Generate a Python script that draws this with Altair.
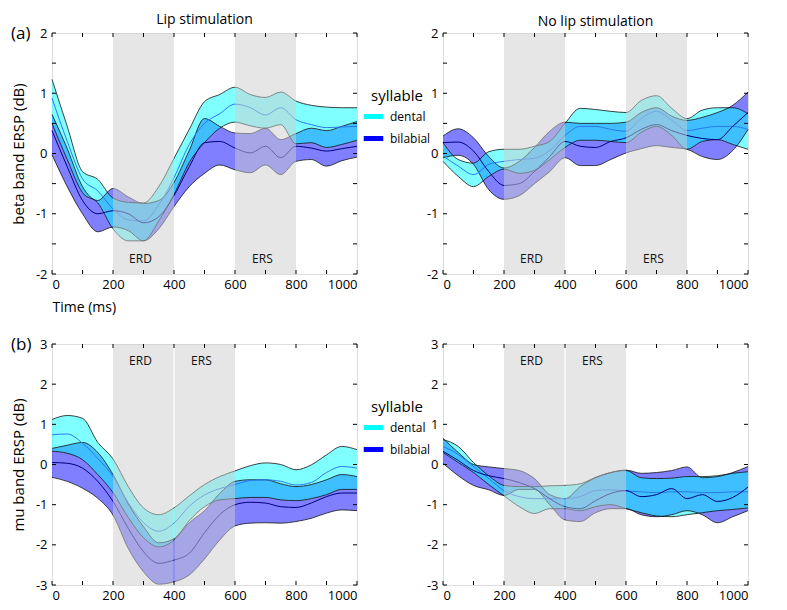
import altair as alt
import pandas as pd

# ---------------- data ----------------
time_ms = [0, 50, 100, 150, 200, 250, 300, 350, 400, 450, 500,
           550, 600, 650, 700, 750, 800, 850, 900, 950, 1000]

# (a) beta band, lip stimulation
a_lip_d_hi = [1.23, 0.45, -0.30, -0.43, -0.74, -0.81, -0.82, -0.55, -0.08, 0.40, 0.86, 0.98, 1.10, 0.98, 0.93, 1.02, 0.87, 0.80, 0.77, 0.76, 0.76]
a_lip_d_mean = [0.92, 0.20, -0.42, -0.62, -0.92, -1.10, -1.12, -0.85, -0.40, 0.15, 0.50, 0.66, 0.82, 0.76, 0.64, 0.76, 0.56, 0.48, 0.43, 0.44, 0.45]
a_lip_d_lo = [0.50, -0.10, -0.65, -0.82, -1.25, -1.45, -1.45, -1.12, -0.68, -0.15, 0.18, 0.42, 0.52, 0.46, 0.42, 0.48, 0.16, 0.18, 0.10, 0.15, 0.22]
a_lip_b_hi = [0.65, 0.08, -0.55, -0.78, -0.58, -0.72, -0.83, -0.78, -0.48, 0.05, 0.58, 0.45, 0.34, 0.33, 0.42, 0.23, 0.33, 0.42, 0.38, 0.45, 0.53]
a_lip_b_mean = [0.38, -0.22, -0.78, -1.00, -0.95, -1.00, -1.15, -1.05, -0.70, -0.22, 0.18, 0.20, 0.09, 0.01, 0.12, -0.07, 0.12, 0.09, 0.04, 0.08, 0.12]
a_lip_b_lo = [-0.02, -0.55, -1.00, -1.30, -1.22, -1.28, -1.45, -1.25, -0.88, -0.55, -0.33, -0.19, -0.27, -0.32, -0.19, -0.35, -0.13, -0.10, -0.21, -0.12, -0.06]

# (a) beta band, no lip stimulation
a_no_d_hi = [0.18, -0.10, -0.16, 0.03, 0.07, 0.07, 0.12, 0.20, 0.50, 0.75, 0.73, 0.70, 0.68, 0.88, 0.96, 0.75, 0.58, 0.72, 0.76, 0.76, 0.66]
a_no_d_mean = [-0.04, -0.21, -0.35, -0.18, -0.13, -0.10, -0.08, 0.05, 0.30, 0.45, 0.45, 0.40, 0.37, 0.58, 0.70, 0.55, 0.38, 0.42, 0.45, 0.45, 0.40]
a_no_d_lo = [-0.13, -0.38, -0.55, -0.38, -0.26, -0.33, -0.28, -0.10, 0.10, 0.22, 0.22, 0.20, 0.18, 0.35, 0.45, 0.30, 0.07, 0.20, 0.23, 0.15, 0.07]
a_no_b_hi = [0.29, 0.41, 0.26, -0.05, -0.24, -0.13, 0.10, 0.37, 0.52, 0.50, 0.50, 0.50, 0.52, 0.68, 0.76, 0.62, 0.55, 0.60, 0.68, 0.80, 1.02]
a_no_b_mean = [0.18, 0.19, 0.04, -0.30, -0.53, -0.50, -0.30, -0.05, 0.20, 0.12, 0.10, 0.20, 0.26, 0.40, 0.48, 0.38, 0.30, 0.25, 0.23, 0.45, 0.68]
a_no_b_lo = [-0.07, -0.03, -0.18, -0.60, -0.76, -0.70, -0.50, -0.30, -0.07, -0.20, -0.20, -0.10, 0.01, 0.08, 0.13, 0.10, 0.07, -0.05, -0.10, 0.05, 0.40]

# (b) mu band, lip stimulation
b_lip_d_hi = [1.12, 1.22, 1.15, 0.55, 0.14, -0.55, -1.08, -1.25, -1.08, -0.78, -0.50, -0.30, -0.16, -0.03, 0.04, 0.00, -0.13, -0.01, 0.24, 0.45, 0.37]
b_lip_d_mean = [0.74, 0.76, 0.53, 0.15, -0.30, -0.95, -1.45, -1.66, -1.46, -1.04, -0.76, -0.60, -0.50, -0.40, -0.38, -0.42, -0.51, -0.45, -0.20, -0.05, -0.09]
b_lip_d_lo = [0.33, 0.28, 0.12, -0.25, -0.70, -1.32, -1.82, -2.05, -1.88, -1.40, -1.05, -0.88, -0.85, -0.82, -0.82, -0.88, -0.90, -0.85, -0.75, -0.62, -0.62]
b_lip_b_hi = [0.40, 0.48, 0.55, 0.30, -0.25, -0.98, -1.55, -1.95, -1.85, -1.45, -1.15, -0.72, -0.42, -0.38, -0.38, -0.48, -0.55, -0.50, -0.38, -0.25, -0.30]
b_lip_b_mean = [0.05, 0.03, -0.09, -0.42, -0.92, -1.59, -2.17, -2.46, -2.38, -2.21, -1.70, -1.25, -1.00, -0.94, -0.96, -1.05, -1.07, -0.96, -0.80, -0.71, -0.71]
b_lip_b_lo = [-0.32, -0.42, -0.59, -0.84, -1.26, -2.09, -2.67, -2.98, -2.92, -2.75, -2.35, -1.88, -1.53, -1.46, -1.45, -1.46, -1.42, -1.34, -1.21, -1.13, -1.15]

# (b) mu band, no lip stimulation
b_no_d_hi = [0.62, 0.45, 0.05, -0.28, -0.52, -0.55, -0.55, -0.53, -0.52, -0.48, -0.32, -0.20, -0.15, -0.33, -0.35, -0.34, -0.30, -0.30, -0.28, -0.22, -0.18]
b_no_d_mean = [0.45, 0.25, -0.05, -0.35, -0.65, -0.80, -0.85, -0.85, -0.85, -0.80, -0.65, -0.63, -0.66, -0.68, -0.70, -0.68, -0.68, -0.70, -0.70, -0.68, -0.68]
b_no_d_lo = [0.30, 0.05, -0.20, -0.50, -0.78, -1.05, -1.22, -1.10, -1.10, -1.15, -1.05, -1.00, -1.10, -1.20, -1.28, -1.30, -1.25, -1.20, -1.15, -1.12, -1.08]
b_no_b_hi = [0.65, 0.30, 0.00, -0.06, -0.10, -0.15, -0.35, -0.75, -0.85, -0.55, -0.33, -0.20, -0.14, -0.22, -0.20, -0.15, -0.06, -0.33, -0.30, -0.20, -0.05]
b_no_b_mean = [0.33, 0.10, -0.15, -0.28, -0.35, -0.45, -0.60, -0.85, -1.05, -1.10, -0.90, -0.72, -0.65, -0.80, -0.75, -0.60, -0.85, -0.75, -0.92, -0.82, -0.56]
b_no_b_lo = [0.03, -0.28, -0.52, -0.63, -0.77, -0.62, -0.62, -1.00, -1.38, -1.42, -1.20, -1.10, -1.10, -1.25, -1.30, -1.25, -1.15, -1.25, -1.45, -1.30, -1.15]

syllables = ["dental", "bilabial"]

# analysis windows (ms)
a_epoch_start = [200, 600]
a_epoch_end = [400, 800]
b_epoch_start = [200, 402]
b_epoch_end = [398, 600]
epoch_names = ["ERD", "ERS"]
a_epoch_label_t = [290, 690]
b_epoch_label_t = [290, 490]
a_epoch_label_v = [-1.75, -1.75]
b_epoch_label_v = [2.57, 2.57]

x_tick_vals = [0, 100, 200, 300, 400, 500, 600, 700, 800, 900, 1000]
x_label_vals = [0, 200, 400, 600, 800, 1000]
a_ytick_vals = [-2, -1.5, -1, -0.5, 0, 0.5, 1, 1.5, 2]
a_ylabel_vals = [-2, -1, 0, 1, 2]
b_ytick_vals = [-3, -2, -1, 0, 1, 2, 3]
b_ylabel_vals = [-3, -2, -1, 0, 1, 2, 3]

# ---------------- style ----------------
W, H = 305, 241
FONT = "Open Sans"
DENTAL_FILL = "#00FFFF"
BILABIAL_FILL = "#0000FF"
DENTAL_MEAN = "#2A78F0"
BILABIAL_MEAN = "#00007A"
EDGE = "#111111"
SHADE = "#CDCDCD"
TICK = 4


def series_frame(d_lo, d_mean, d_hi, b_lo, b_mean, b_hi):
    rows = []
    for syl, lo, mn, hi in (("dental", d_lo, d_mean, d_hi), ("bilabial", b_lo, b_mean, b_hi)):
        for t, a, m, b in zip(time_ms, lo, mn, hi):
            rows.append({"t": t, "syllable": syl, "lo": a, "mean": m, "hi": b})
    return pd.DataFrame(rows)


def panel(df, ymin, ymax, ytick_vals, ylabel_vals, ep_start, ep_end, lab_t, lab_v,
          title_text=None, ytitle=None, xtitle=None, legend=False, tag=None):
    xs = alt.Scale(domain=[0, 1000], nice=False, zero=False)
    ys = alt.Scale(domain=[ymin, ymax], nice=False, zero=False)

    xax_kw = dict(values=x_label_vals, labelExpr="'' + datum.value", ticks=False,
                  domain=False, grid=False, labelFontSize=13, labelPadding=4,
                  labelColor="black", labelFont=FONT)
    if xtitle:
        xax_kw.update(title=xtitle, titleAnchor="start", titleFontSize=14,
                      titleFontWeight="normal", titlePadding=9, titleColor="black",
                      titleFont=FONT)
    else:
        xax_kw.update(title="")
    yax_kw = dict(values=ylabel_vals, labelExpr="'' + datum.value", ticks=False,
                  domain=False, grid=False, labelFontSize=13, labelPadding=5,
                  labelColor="black", labelFont=FONT)
    if ytitle:
        yax_kw.update(title=ytitle, titleFontSize=15, titleFontWeight="normal",
                      titlePadding=9, titleColor="black", titleFont=FONT)
    else:
        yax_kw.update(title="")
    xax = alt.Axis(**xax_kw)
    yax = alt.Axis(**yax_kw)

    X = alt.X("t:Q", scale=xs, axis=xax)

    base = alt.Chart(df)
    bil = base.transform_filter(alt.datum.syllable == "bilabial")
    den = base.transform_filter(alt.datum.syllable == "dental")

    def area(src, col):
        return src.mark_area(fill=col, fillOpacity=0.5, interpolate="monotone").encode(
            x=X, y=alt.Y("lo:Q", scale=ys, axis=yax), y2="hi:Q")

    def line(src, field, col, sw):
        return src.mark_line(color=col, strokeWidth=sw, interpolate="monotone").encode(
            x=X, y=alt.Y(f"{field}:Q", scale=ys, axis=yax))

    layers = [
        area(bil, BILABIAL_FILL),
        area(den, DENTAL_FILL),
        line(bil, "lo", EDGE, 0.8), line(bil, "hi", EDGE, 0.8),
        line(den, "lo", EDGE, 0.8), line(den, "hi", EDGE, 0.8),
        line(den, "mean", DENTAL_MEAN, 1.0),
        line(bil, "mean", BILABIAL_MEAN, 1.0),
    ]

    ep = pd.DataFrame({"start": ep_start, "end": ep_end})
    layers.append(alt.Chart(ep).mark_rect(color=SHADE, opacity=0.5).encode(
        x=alt.X("start:Q", scale=xs, axis=xax), x2="end:Q",
        y=alt.Y(datum=ymin, scale=ys, axis=yax), y2=alt.datum(ymax)))

    lab = pd.DataFrame({"name": epoch_names, "t": lab_t, "v": lab_v})
    layers.append(alt.Chart(lab).mark_text(fontSize=12, font=FONT, color="#111111").encode(
        x=alt.X("t:Q", scale=xs, axis=xax), y=alt.Y("v:Q", scale=ys, axis=yax), text="name:N"))

    # inward-pointing ticks on all four sides
    xt = pd.DataFrame({"tick": x_tick_vals})
    yt = pd.DataFrame({"tick": ytick_vals})
    XT = alt.X("tick:Q", scale=xs, axis=xax)
    YT = alt.Y("tick:Q", scale=ys, axis=yax)
    layers += [
        alt.Chart(xt).mark_rule(color="black", strokeWidth=1).encode(x=XT, y=alt.value(H), y2=alt.value(H - TICK)),
        alt.Chart(xt).mark_rule(color="black", strokeWidth=1).encode(x=XT, y=alt.value(0), y2=alt.value(TICK)),
        alt.Chart(yt).mark_rule(color="black", strokeWidth=1).encode(y=YT, x=alt.value(0), x2=alt.value(TICK)),
        alt.Chart(yt).mark_rule(color="black", strokeWidth=1).encode(y=YT, x=alt.value(W), x2=alt.value(W - TICK)),
    ]

    if legend:
        # single-point lines per syllable: invisible, they only carry the legend
        layers.append(base.transform_filter(alt.datum.t == 0).mark_line(strokeWidth=5).encode(
            x=X, y=alt.Y("mean:Q", scale=ys, axis=yax),
            color=alt.Color("syllable:N",
                            scale=alt.Scale(domain=syllables, range=[DENTAL_FILL, BILABIAL_FILL]),
                            legend=alt.Legend(orient="none", legendX=311, legendY=56,
                                              title="syllable", titleFontSize=15,
                                              titleFontWeight="normal", titleAnchor="middle",
                                              titleFont=FONT, titleColor="black",
                                              titlePadding=2, labelFontSize=12, labelFont=FONT,
                                              labelColor="black", labelOffset=6,
                                              symbolType="M-1.22,0H1.22", symbolStrokeWidth=5,
                                              symbolSize=256, symbolOpacity=1,
                                              rowPadding=1, padding=0))))
    if tag:
        layers.append(alt.Chart(pd.DataFrame({"tag": [tag]})).mark_text(
            fontSize=17, font=FONT, align="left", baseline="middle", color="black").encode(
            text="tag:N", x=alt.value(-41), y=alt.value(1)))

    ch = alt.layer(*layers).properties(width=W, height=H)
    if title_text:
        ch = ch.properties(title=alt.Title(title_text, fontSize=14, fontWeight="normal",
                                           font=FONT, color="black", offset=-2,
                                           anchor="middle", frame="group"))
    return ch


a_lip = panel(series_frame(a_lip_d_lo, a_lip_d_mean, a_lip_d_hi, a_lip_b_lo, a_lip_b_mean, a_lip_b_hi),
              -2, 2, a_ytick_vals, a_ylabel_vals, a_epoch_start, a_epoch_end,
              a_epoch_label_t, a_epoch_label_v, title_text="Lip stimulation",
              ytitle="beta band ERSP (dB)", xtitle="Time (ms)", legend=True, tag="(a)")
a_no = panel(series_frame(a_no_d_lo, a_no_d_mean, a_no_d_hi, a_no_b_lo, a_no_b_mean, a_no_b_hi),
             -2, 2, a_ytick_vals, a_ylabel_vals, a_epoch_start, a_epoch_end,
             a_epoch_label_t, a_epoch_label_v, title_text="No lip stimulation")
b_lip = panel(series_frame(b_lip_d_lo, b_lip_d_mean, b_lip_d_hi, b_lip_b_lo, b_lip_b_mean, b_lip_b_hi),
              -3, 3, b_ytick_vals, b_ylabel_vals, b_epoch_start, b_epoch_end,
              b_epoch_label_t, b_epoch_label_v, ytitle="mu band ERSP (dB)", legend=True, tag="(b)")
b_no = panel(series_frame(b_no_d_lo, b_no_d_mean, b_no_d_hi, b_no_b_lo, b_no_b_mean, b_no_b_hi),
             -3, 3, b_ytick_vals, b_ylabel_vals, b_epoch_start, b_epoch_end,
             b_epoch_label_t, b_epoch_label_v)

chart = alt.concat(a_lip, a_no, b_lip, b_no, columns=2,
                   spacing=alt.RowColnumber(row=70, column=86), bounds="flush").resolve_scale(
    color="independent").resolve_legend(color="independent").properties(
    padding={"left": 2, "top": 4, "right": 0, "bottom": 0}).configure_view(
    stroke="black", strokeWidth=1).configure(font=FONT)

chart.save("out.html", embed_options={"renderer": "svg", "actions": False})
